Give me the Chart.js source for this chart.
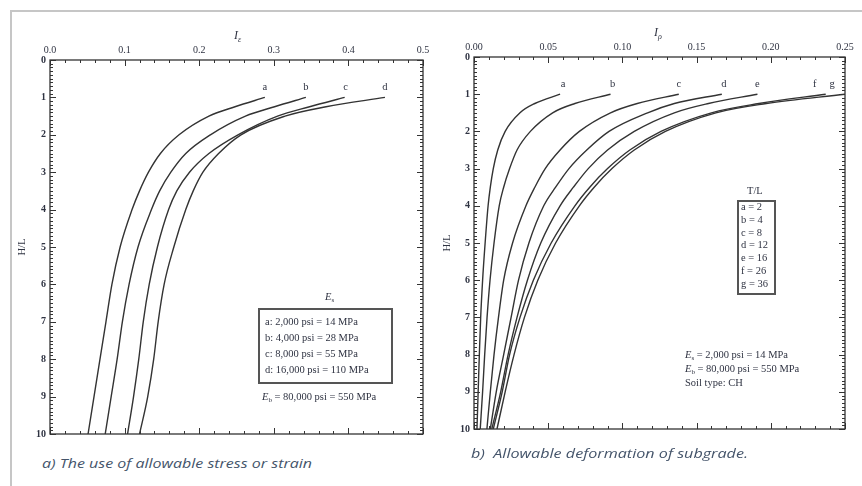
<!DOCTYPE html>
<html><head><meta charset="utf-8">
<script src="https://cdn.jsdelivr.net/npm/chart.js@4.4.1/dist/chart.umd.min.js"></script>
<style>
html,body{margin:0;padding:0;background:#fff;}
body{width:862px;height:486px;position:relative;overflow:hidden;font-family:'Liberation Serif','DejaVu Serif',serif;color:#2f3342;}
.frame{position:absolute;left:10px;top:10px;width:900px;height:600px;border-left:2px solid #c6c6c6;border-top:2px solid #c6c6c6;}
canvas{position:absolute;}
.t{position:absolute;white-space:nowrap;font-size:10.5px;line-height:12px;height:12px;}
.t sub{font-size:7px;vertical-align:-2px;line-height:0;}
.box{position:absolute;border:2px solid #555;box-sizing:border-box;}
.cap{position:absolute;white-space:nowrap;font-family:'Open Sans',sans-serif;font-style:italic;font-size:13px;color:#44546a;transform-origin:0 50%;line-height:16px;}
.ttl{position:absolute;white-space:nowrap;font-size:12px;font-style:italic;line-height:14px;}
.ttl sub{font-size:8px;vertical-align:-3px;line-height:0;}
.rot{position:absolute;white-space:nowrap;font-size:10.5px;line-height:12px;transform:translate(-50%,-50%) rotate(-90deg);}
</style>
</head>
<body>
<div class="frame"></div>
<canvas id="cL" width="440" height="450" style="left:0;top:0"></canvas>
<canvas id="cR" width="422" height="450" style="left:440px;top:0"></canvas>

<!-- axis titles -->
<div class="ttl" style="left:234px;top:28px">I<sub>ε</sub></div>
<div class="ttl" style="left:654px;top:25px">I<sub>ρ</sub></div>
<div class="rot" style="left:22px;top:247px">H/L</div>
<div class="rot" style="left:447px;top:243px">H/L</div>

<!-- left legend -->
<div class="t" style="left:325px;top:291px"><i>E</i><sub>s</sub></div>
<div class="box" style="left:258px;top:308px;width:135px;height:76px"></div>
<div class="t" style="left:265px;top:316px">a: 2,000 psi = 14 MPa</div>
<div class="t" style="left:265px;top:332px">b: 4,000 psi = 28 MPa</div>
<div class="t" style="left:265px;top:348px">c: 8,000 psi = 55 MPa</div>
<div class="t" style="left:265px;top:364px">d: 16,000 psi = 110 MPa</div>
<div class="t" style="left:262px;top:391px"><i>E</i><sub>b</sub> = 80,000 psi = 550 MPa</div>

<!-- right legend -->
<div class="t" style="left:747px;top:185px">T/L</div>
<div class="box" style="left:737px;top:200px;width:39px;height:95px"></div>
<div class="t" style="left:741px;top:201px">a = 2</div>
<div class="t" style="left:741px;top:214px">b = 4</div>
<div class="t" style="left:741px;top:227px">c = 8</div>
<div class="t" style="left:741px;top:239px">d = 12</div>
<div class="t" style="left:741px;top:252px">e = 16</div>
<div class="t" style="left:741px;top:265px">f = 26</div>
<div class="t" style="left:741px;top:278px">g = 36</div>

<div class="t" style="left:685px;top:349px"><i>E</i><sub>s</sub> = 2,000 psi = 14 MPa</div>
<div class="t" style="left:685px;top:363px"><i>E</i><sub>b</sub> = 80,000 psi = 550 MPa</div>
<div class="t" style="left:685px;top:377px">Soil type: CH</div>

<!-- captions -->
<div class="cap" id="capL" data-w="270" style="left:42px;top:455px">a) The use of allowable stress or strain</div>
<div class="cap" id="capR" data-w="277" style="left:471px;top:445px">b)&nbsp; Allowable deformation of subgrade.</div>

<script>
// ---------- DATA ----------
// depth ratio H/L sample points (shared by all curves)
const depthH = [1, 1.25, 1.5, 2, 2.5, 3, 3.5, 4, 5, 6, 7, 8, 9, 10];

// Chart a) strain influence factor I_e, by subgrade modulus E_s
const leftLabels = ['a', 'b', 'c', 'd'];
const leftA = [0.288, 0.248, 0.213, 0.173, 0.148, 0.132, 0.120, 0.110, 0.094, 0.083, 0.075, 0.067, 0.059, 0.051];
const leftB = [0.343, 0.301, 0.262, 0.215, 0.182, 0.162, 0.147, 0.136, 0.118, 0.106, 0.097, 0.090, 0.082, 0.074];
const leftC = [0.395, 0.348, 0.305, 0.252, 0.213, 0.187, 0.170, 0.159, 0.144, 0.133, 0.125, 0.119, 0.112, 0.104];
const leftD = [0.449, 0.370, 0.315, 0.256, 0.226, 0.205, 0.192, 0.182, 0.166, 0.153, 0.145, 0.139, 0.131, 0.120];

// Chart b) deformation influence factor I_p, by T/L
const rightLabels = ['a', 'b', 'c', 'd', 'e', 'f', 'g'];
const rightA = [0.058, 0.041, 0.031, 0.021, 0.016, 0.013, 0.011, 0.0095, 0.0075, 0.0058, 0.0045, 0.0036, 0.0028, 0.0020];
const rightB = [0.092, 0.068, 0.053, 0.038, 0.029, 0.024, 0.020, 0.017, 0.0135, 0.0108, 0.0088, 0.0072, 0.0058, 0.0042];
const rightC = [0.138, 0.110, 0.092, 0.071, 0.058, 0.048, 0.041, 0.035, 0.026, 0.020, 0.0165, 0.0135, 0.011, 0.0087];
const rightD = [0.167, 0.135, 0.117, 0.091, 0.076, 0.064, 0.055, 0.047, 0.037, 0.030, 0.025, 0.020, 0.015, 0.011];
const rightE = [0.191, 0.158, 0.135, 0.108, 0.090, 0.077, 0.067, 0.058, 0.045, 0.036, 0.029, 0.023, 0.018, 0.012];
const rightF = [0.237, 0.192, 0.160, 0.126, 0.105, 0.090, 0.078, 0.068, 0.052, 0.040, 0.031, 0.024, 0.019, 0.013];
const rightG = [0.250, 0.197, 0.163, 0.129, 0.108, 0.093, 0.081, 0.071, 0.055, 0.043, 0.034, 0.027, 0.021, 0.0155];

// ---------- CHARTS ----------
const INK = '#2f3342';
const toPts = vals => vals.map((v, i) => ({x: v, y: depthH[i]}));
const mkSets = (labels, series) => series.map((s, i) => ({
  label: labels[i], data: toPts(s), showLine: true, pointRadius: 0,
  borderColor: '#333', borderWidth: 1.4, cubicInterpolationMode: 'monotone', fill: false
}));

const boxTicks = {
  id: 'boxTicks',
  afterDatasetsDraw(chart, args, o) {
    const ctx = chart.ctx, a = chart.chartArea, x = chart.scales.x, y = chart.scales.y;
    ctx.save();
    ctx.strokeStyle = '#333';
    ctx.lineWidth = 1.3;
    ctx.strokeRect(a.left, a.top, a.right - a.left, a.bottom - a.top);
    ctx.lineWidth = 1;
    const seg = (x1, y1, x2, y2) => { ctx.beginPath(); ctx.moveTo(x1, y1); ctx.lineTo(x2, y2); ctx.stroke(); };
    const nx = Math.round((x.max - x.min) / o.xMinor);
    for (let i = 0; i <= nx; i++) {
      const px = Math.round(x.getPixelForValue(x.min + i * o.xMinor)) + 0.5;
      const L = (i % o.xPer === 0) ? 6 : 3;
      seg(px, a.top, px, a.top + L); seg(px, a.bottom, px, a.bottom - L);
    }
    const ny = Math.round((y.max - y.min) / o.yMinor);
    for (let i = 0; i <= ny; i++) {
      const py = Math.round(y.getPixelForValue(y.min + i * o.yMinor)) + 0.5;
      const L = (i % o.yPer === 0) ? 6 : 3;
      seg(a.left, py, a.left + L, py); seg(a.right, py, a.right - L, py);
    }
    ctx.fillStyle = INK;
    ctx.font = '10.5px "Liberation Serif", serif';
    ctx.textAlign = 'center'; ctx.textBaseline = 'middle';
    chart.data.datasets.forEach((ds, i) => {
      const p = ds.data[0];
      ctx.fillText(ds.label, x.getPixelForValue(p.x) + (o.dx[i] || 0), y.getPixelForValue(p.y) - 10);
    });
    ctx.restore();
  }
};

function makeChart(id, labels, series, xmax, xstep, xdec, pad, o) {
  return new Chart(document.getElementById(id), {
    type: 'scatter',
    data: {datasets: mkSets(labels, series)},
    plugins: [boxTicks],
    options: {
      responsive: false, animation: false, devicePixelRatio: 1,
      layout: {padding: pad},
      plugins: {legend: {display: false}, tooltip: {enabled: false}, boxTicks: o},
      scales: {
        x: {
          type: 'linear', position: 'top', min: 0, max: xmax,
          afterFit: s => { s.height = 20; },
          grid: {display: false, drawTicks: false}, border: {display: false},
          ticks: {stepSize: xstep, padding: 4, color: INK, maxRotation: 0,
                  font: {family: 'Liberation Serif', size: 10},
                  callback: v => Number(v).toFixed(xdec)}
        },
        y: {
          type: 'linear', position: 'left', min: 0, max: 10, reverse: true,
          afterFit: s => { s.width = 22; },
          grid: {display: false, drawTicks: false}, border: {display: false},
          ticks: {stepSize: 1, padding: 4, color: INK,
                  font: {family: 'Liberation Serif', size: 10, weight: 'bold'}}
        }
      }
    }
  });
}

makeChart('cL', leftLabels, [leftA, leftB, leftC, leftD], 0.5, 0.1, 1,
  {left: 28, top: 40, right: 17, bottom: 16},
  {xMinor: 0.02, xPer: 5, yMinor: 0.1, yPer: 10, dx: [0, 0, 1, 0]});
makeChart('cR', rightLabels, [rightA, rightB, rightC, rightD, rightE, rightF, rightG], 0.25, 0.05, 2,
  {left: 12, top: 37, right: 17, bottom: 21},
  {xMinor: 0.01, xPer: 5, yMinor: 0.1, yPer: 10, dx: [3, 2, 0, 2, 0, -11, -13]});

// fit captions to reference width
document.querySelectorAll('.cap').forEach(el => {
  const w = el.getBoundingClientRect().width;
  el.style.transform = 'scaleX(' + (parseFloat(el.dataset.w) / w) + ')';
});
</script>
</body></html>
